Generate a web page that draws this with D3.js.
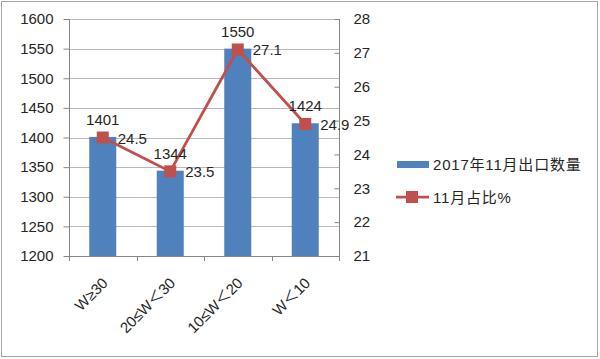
<!DOCTYPE html>
<html><head><meta charset="utf-8">
<script src="https://cdn.jsdelivr.net/npm/d3@7"></script>
<style>body{margin:0;background:#fff}svg{display:block}</style>
</head><body><svg id="c" width="600" height="359"></svg>
<script>
const categories = ["W≥30", "20≤W＜30", "10≤W＜20", "W＜10"];
const quantity = [1401, 1344, 1550, 1424];
const share = [24.5, 23.5, 27.1, 24.9];
const leftTicks = [1200, 1250, 1300, 1350, 1400, 1450, 1500, 1550, 1600];
const rightTicks = [21, 22, 23, 24, 25, 26, 27, 28];
const seriesNames = ["2017年11月出口数量", "11月占比%"];

const svg = d3.select("#c");
const font = "'Liberation Sans', Arial, sans-serif";
const cjk = "'Liberation Sans', 'Noto Sans CJK SC', sans-serif";
const L = 69, R = 339, T = 19, B = 256;
const blue = "#4f81bd", red = "#c0504d", txt = "#262626";

svg.append("rect").attr("x", 1.5).attr("y", 1.5).attr("width", 596).attr("height", 355)
  .attr("fill", "#fff").attr("stroke", "#a6a6a6").attr("stroke-width", 1);

const x = d3.scaleBand().domain(categories).range([L, R]).paddingInner(0.6).paddingOuter(0.3);
const xc = d3.scalePoint().domain(categories).range([L, R]).padding(0.5);
const yL = d3.scaleLinear().domain([1200, 1600]).range([B, T]);
const yR = d3.scaleLinear().domain([21, 28]).range([B, T]);

// gridlines
svg.append("g").selectAll("line").data(leftTicks).join("line")
  .attr("x1", L).attr("x2", R).attr("y1", d => Math.round(yL(d)) + 0.5).attr("y2", d => Math.round(yL(d)) + 0.5)
  .attr("stroke", "#b8b8b8");

// bars
svg.append("g").selectAll("rect").data(quantity).join("rect")
  .attr("x", (d, i) => x(categories[i])).attr("width", x.bandwidth())
  .attr("y", d => yL(d)).attr("height", d => B - yL(d)).attr("fill", blue);

// axes
const gL = svg.append("g").attr("transform", `translate(${L + 0.5},0)`)
  .call(d3.axisLeft(yL).tickValues(leftTicks).tickFormat(d3.format("d")).tickSize(6).tickPadding(10));
const gR = svg.append("g").attr("transform", `translate(${R + 0.5},0)`)
  .call(d3.axisRight(yR).tickValues(rightTicks).tickFormat(d3.format("d")).tickSize(5).tickPadding(9));
const gB = svg.append("g").attr("transform", `translate(0,${B + 0.5})`)
  .call(d3.axisBottom(x).tickSize(0).tickFormat(""));
const bounds = d3.range(categories.length + 1).map(i => L + i * (R - L) / categories.length);
svg.append("g").selectAll("line").data(bounds).join("line")
  .attr("x1", d => Math.round(d) + 0.5).attr("x2", d => Math.round(d) + 0.5)
  .attr("y1", B).attr("y2", B + 5).attr("stroke", "#868686");
[gL, gR, gB].forEach(g => {
  g.selectAll("path,line").attr("stroke", "#868686");
  g.selectAll("text").attr("font-family", font).attr("font-size", 15).attr("fill", txt);
});
gR.selectAll(".tick line").attr("x2", -5);
gL.select(".domain").attr("d", `M0,${T}V${B}`);
gR.select(".domain").attr("d", `M0,${T}V${B}`);
gB.select(".domain").attr("d", `M${L},0H${R}`);

// x labels rotated
svg.append("g").selectAll("text").data(categories).join("text")
  .attr("transform", d => `translate(${xc(d) + 6},${B + 28}) rotate(-45)`)
  .attr("text-anchor", "end").attr("font-family", cjk).attr("font-size", 15).attr("fill", txt)
  .text(d => d);

// line + markers
const line = d3.line().x((d, i) => xc(categories[i])).y(d => yR(d));
svg.append("path").datum(share).attr("d", line).attr("fill", "none").attr("stroke", red).attr("stroke-width", 2.75);
svg.append("g").selectAll("rect").data(share).join("rect")
  .attr("x", (d, i) => xc(categories[i]) - 6).attr("y", d => yR(d) - 6)
  .attr("width", 12).attr("height", 12).attr("fill", red);

// data labels
svg.append("g").selectAll("text").data(quantity).join("text")
  .attr("x", (d, i) => xc(categories[i])).attr("y", d => yL(d) - 12)
  .attr("text-anchor", "middle").attr("font-family", font).attr("font-size", 15).attr("fill", txt)
  .text(d => d);
svg.append("g").selectAll("text").data(share).join("text")
  .attr("x", (d, i) => xc(categories[i]) + 15).attr("y", d => yR(d) + 6)
  .attr("font-family", font).attr("font-size", 15).attr("fill", txt)
  .text(d => d);

// legend
const lg = svg.append("g");
lg.append("rect").attr("x", 397).attr("y", 161).attr("width", 32).attr("height", 7).attr("fill", blue);
lg.append("text").attr("x", 433).attr("y", 170).attr("font-family", cjk).attr("font-size", 15)
  .attr("letter-spacing", 0.8).attr("fill", txt).text(seriesNames[0]);
lg.append("line").attr("x1", 396).attr("x2", 429).attr("y1", 197).attr("y2", 197).attr("stroke", red).attr("stroke-width", 2.75);
lg.append("rect").attr("x", 406).attr("y", 191).attr("width", 12).attr("height", 12).attr("fill", red);
lg.append("text").attr("x", 433).attr("y", 203).attr("font-family", cjk).attr("font-size", 15)
  .attr("letter-spacing", 0.8).attr("fill", txt).text(seriesNames[1]);
</script></body></html>
